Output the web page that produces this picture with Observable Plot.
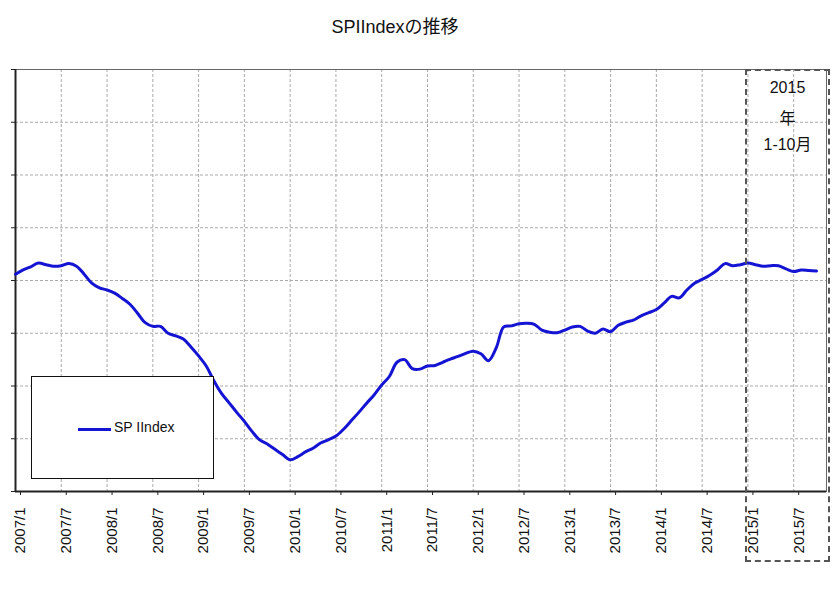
<!DOCTYPE html>
<html>
<head>
<meta charset="utf-8">
<script src="https://cdn.jsdelivr.net/npm/d3@7"></script>
<script src="https://cdn.jsdelivr.net/npm/@observablehq/plot@0.6"></script>
<style>
  html, body { margin: 0; padding: 0; background: #fff; }
  #wrap { position: relative; width: 840px; height: 590px; font-family: "Liberation Sans", "Noto Sans CJK JP", sans-serif; }
  #title { position: absolute; left: 0; width: 790px; top: 12px; text-align: center; font-size: 18px; color: #111; }
  #legend { position: absolute; left: 31px; top: 376px; width: 181px; height: 101px; border: 1.5px solid #111; background: #fff; }
  #legend .sw { position: absolute; left: 46px; top: 51px; width: 33px; height: 3px; background: #1414d2; }
  #legend .lb { position: absolute; left: 82px; top: 42px; font-size: 14px; color: #111; }
  #box { position: absolute; left: 745px; top: 69px; width: 81px; height: 489px; border: 2px dashed #555; }
  #box .t { position: absolute; left: 0; width: 81px; text-align: center; font-size: 16px; color: #111; }
</style>
</head>
<body>
<div id="wrap">
  <div id="title"></div>
  <div id="chart"></div>
  <div id="box"></div>
  <div id="legend"><div class="sw"></div><div class="lb"></div></div>
</div>
<script>
const titleText = "SPIIndexの推移";
const seriesName = "SP IIndex";
const noteLines = ["2015", "年", "1-10月"];
// monthly values from 2007/1 to 2015/10 (relative index units, no y labels in source)
const values = [
  4.12, 4.20, 4.26, 4.33, 4.30, 4.27, 4.28, 4.32, 4.27, 4.12, 3.95, 3.86,
  3.82, 3.76, 3.66, 3.55, 3.38, 3.20, 3.13, 3.13, 3.00, 2.95, 2.89, 2.74,
  2.57, 2.38, 2.10, 1.86, 1.68, 1.50, 1.33, 1.14, 0.98, 0.90, 0.80, 0.70,
  0.60, 0.66, 0.75, 0.82, 0.92, 0.98, 1.05, 1.18, 1.34, 1.50, 1.67, 1.83,
  2.02, 2.18, 2.45, 2.50, 2.33, 2.32, 2.38, 2.39, 2.45, 2.51, 2.56, 2.62,
  2.66, 2.61, 2.48, 2.72, 3.12, 3.14, 3.18, 3.19, 3.17, 3.06, 3.02, 3.01,
  3.06, 3.12, 3.13, 3.04, 3.00, 3.08, 3.03, 3.15, 3.21, 3.25, 3.33, 3.39,
  3.45, 3.57, 3.70, 3.67, 3.82, 3.95, 4.02, 4.10, 4.20, 4.32, 4.28, 4.30,
  4.33, 4.30, 4.27, 4.28, 4.28, 4.22, 4.17, 4.20, 4.19, 4.18
];
const tickLabels = ["2007/1","2007/7","2008/1","2008/7","2009/1","2009/7","2010/1","2010/7","2011/1","2011/7","2012/1","2012/7","2013/1","2013/7","2014/1","2014/7","2015/1","2015/7"];
const yTicks = [0, 1, 2, 3, 4, 5, 6, 7, 8];

const data = values.map((v, i) => ({i, v}));
const xTicks = tickLabels.map((_, k) => k * 6);
const labelOf = new Map(xTicks.map((t, k) => [t, tickLabels[k]]));

document.getElementById("title").textContent = titleText;
document.querySelector("#legend .lb").textContent = seriesName;
const box = document.getElementById("box");
noteLines.forEach((s, k) => {
  const d = document.createElement("div");
  d.className = "t";
  d.style.top = (8 + k * 26) + "px";
  d.textContent = s;
  box.appendChild(d);
});

const chart = Plot.plot({
  width: 840,
  height: 590,
  marginTop: 69,
  marginLeft: 15,
  marginRight: 14,
  marginBottom: 99,
  style: {fontFamily: "Liberation Sans, sans-serif", background: "#fff"},
  x: {domain: [0, 106.3]},
  y: {domain: [0, 8]},
  marks: [
    Plot.ruleX(xTicks, {stroke: "#aaa", strokeDasharray: "3,2", strokeWidth: 1}),
    Plot.ruleY(yTicks.slice(1, -1), {stroke: "#aaa", strokeDasharray: "3,2", strokeWidth: 1}),
    Plot.frame({stroke: "#666", strokeWidth: 1}),
    Plot.axisX({ticks: xTicks, tickFormat: d => labelOf.get(d), tickRotate: -90, tickSize: 4, tickPadding: 12, fontSize: 15, dx: 5, label: null, stroke: "#222", fill: "#111"}),
    Plot.axisY({ticks: yTicks, tickFormat: () => "", tickSize: 4, label: null, stroke: "#222"}),
    Plot.ruleX([0], {stroke: "#222", strokeWidth: 2}),
    Plot.ruleY([0], {stroke: "#222", strokeWidth: 2}),
    Plot.line(data, {x: "i", y: "v", stroke: "#1414d2", strokeWidth: 3, curve: "catmull-rom"})
  ]
});
document.getElementById("chart").appendChild(chart);
</script>
</body>
</html>
